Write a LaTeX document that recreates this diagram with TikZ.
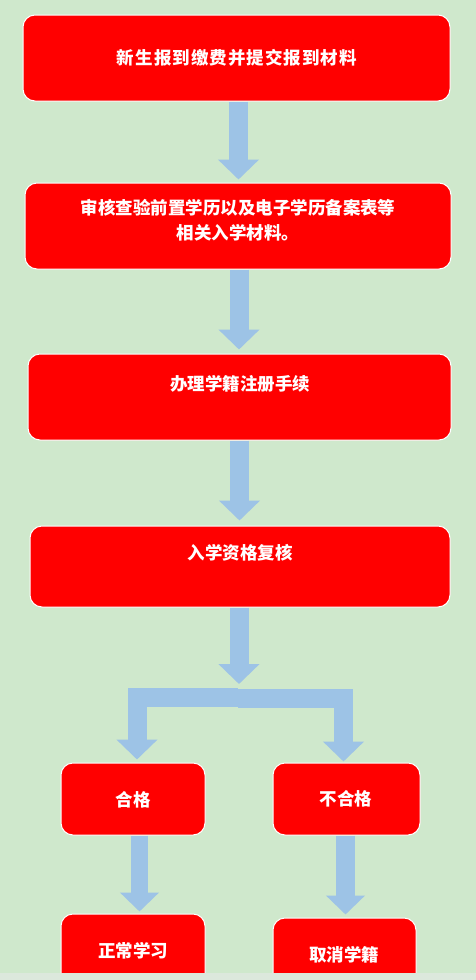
\documentclass[tikz,border=0pt]{standalone}
\usepackage{fontspec}
\newfontfamily\cjk{Noto Sans CJK SC}
\usetikzlibrary{arrows.meta}
\definecolor{bgc}{HTML}{CFE8CC}
\definecolor{stripc}{HTML}{DCE8DC}
\definecolor{boxred}{HTML}{FF0000}
\definecolor{arrblue}{HTML}{9DC3E6}
\tikzset{
  box/.style={draw=white, line width=1pt, fill=boxred, rounded corners=12pt, inner sep=0pt},
  lbl/.style={text=white, font=\cjk\bfseries\fontsize{17.5}{25}\selectfont, align=center, inner sep=0pt},
  blockarrow/.style={draw=arrblue, line width=19pt, line join=miter, -{Triangle[width=40pt,length=20pt]}},
  smallarrow/.style={draw=arrblue, line width=17pt, -{Triangle[width=38pt,length=19pt]}}
}
\begin{document}
\begin{tikzpicture}[x=1pt,y=-1pt]
\useasboundingbox (0,0) rectangle (476,980);
\fill[bgc] (0,0) rectangle (476,980);
% boxes
\node[box, minimum width=427pt, minimum height=86pt] (b1) at (236.5,58) {};
\node[box, minimum width=426pt, minimum height=86pt] (b2) at (238,226) {};
\node[box, minimum width=423pt, minimum height=86pt] (b3) at (239.5,397) {};
\node[box, minimum width=420pt, minimum height=81pt] (b4) at (240,566.5) {};
\node[box, minimum width=144pt, minimum height=72pt] (b5) at (133,799) {};
\node[box, minimum width=147pt, minimum height=72pt] (b6) at (346.5,799) {};
\node[box, minimum width=144pt, minimum height=86pt] (b7) at (133,957) {};
\node[box, minimum width=143pt, minimum height=86pt] (b8) at (344.5,961) {};
% texts
\node[lbl] (t1) at (237,58) {\addfontfeature{LetterSpace=6}新生报到缴费并提交报到材料};
\node[lbl] (t2) at (238,220) {审核查验前置学历以及电子学历备案表等\\相关入学材料。};
\node[lbl] (t3) at (240,384) {办理学籍注册手续};
\node[lbl] (t4) at (240,553) {入学资格复核};
\node[lbl] (t5) at (133,800) {合格};
\node[lbl] (t6) at (346,799) {不合格};
\node[lbl] (t7) at (133,951) {正常学习};
\node[lbl] (t8) at (344,955) {取消学籍};
% main arrows
\draw[blockarrow, shorten >=3pt] ([xshift=2pt]b1.south) -- ([xshift=2pt]b1.south |- b2.north);
\draw[blockarrow, shorten >=4pt] ([xshift=1pt]b2.south) -- ([xshift=1pt]b2.south |- b3.north);
\draw[blockarrow, shorten >=5pt] ([xshift=0pt]b3.south) -- ([xshift=0pt]b3.south |- b4.north);
\coordinate (j) at (239,684);
\draw[blockarrow] ([xshift=-1pt]b4.south) -- (j);
% branch
\coordinate (jl) at (238,697);
\coordinate (jr) at (238,698);
\draw[blockarrow, shorten >=3pt] (jl) -| (b5.north -| 137,0);
\draw[blockarrow, shorten >=1pt] (jr) -| (b6.north -| 343.5,0);
% lower arrows
\draw[smallarrow, shorten >=2pt] ([xshift=6.5pt]b5.south) -- ([xshift=6.5pt]b5.south |- b7.north);
\draw[smallarrow, shorten >=3pt, line width=19pt] ([xshift=-1pt]b6.south) -- ([xshift=-1pt]b6.south |- b8.north);
% bottom strip
\fill[stripc] (0,973) rectangle (476,980);
\end{tikzpicture}
\end{document}
